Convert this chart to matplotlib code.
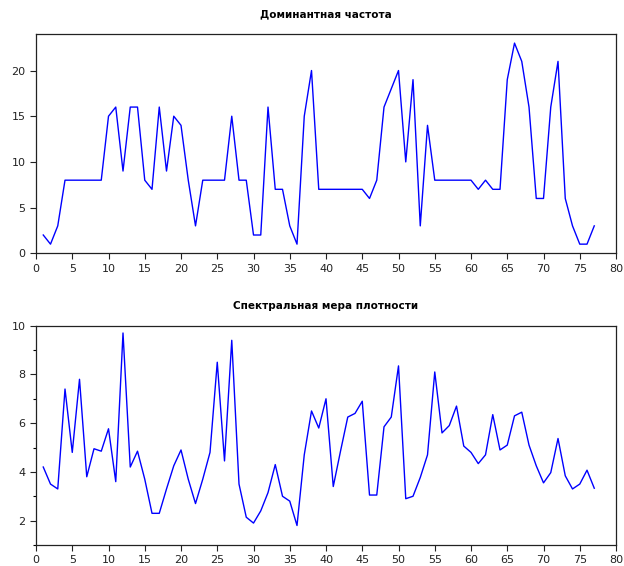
import matplotlib
matplotlib.use("Agg")
import matplotlib.pyplot as plt
from matplotlib.ticker import MultipleLocator

# data
x = list(range(1, 78))

dominant_freq = [2, 1, 3, 8, 8, 8, 8, 8, 8, 15,
                 16, 9, 16, 16, 8, 7, 16, 9, 15, 14,
                 8, 3, 8, 8, 8, 8, 15, 8, 8, 2,
                 2, 16, 7, 7, 3, 1, 15, 20, 7, 7,
                 7, 7, 7, 7, 7, 6, 8, 16, 18, 20,
                 10, 19, 3, 14, 8, 8, 8, 8, 8, 8,
                 7, 8, 7, 7, 19, 23, 21, 16, 6, 6,
                 16, 21, 6, 3, 1, 1, 3]

spectral_density = [4.2, 3.5, 3.3, 7.4, 4.8, 7.8, 3.8, 4.95, 4.85, 5.77,
                    3.6, 9.7, 4.2, 4.85, 3.7, 2.3, 2.3, 3.3, 4.25, 4.9,
                    3.7, 2.7, 3.7, 4.8, 8.5, 4.45, 9.4, 3.5, 2.14, 1.9,
                    2.4, 3.15, 4.3, 3.0, 2.8, 1.8, 4.7, 6.5, 5.8, 7.0,
                    3.4, 4.85, 6.25, 6.4, 6.9, 3.05, 3.05, 5.85, 6.25, 8.35,
                    2.9, 3.0, 3.77, 4.7, 8.1, 5.6, 5.9, 6.7, 5.06, 4.8,
                    4.34, 4.7, 6.35, 4.9, 5.1, 6.3, 6.45, 5.1, 4.25, 3.55,
                    3.97, 5.37, 3.84, 3.3, 3.5, 4.07, 3.33]

titles = ["Доминантная частота", "Спектральная мера плотности"]

fig = plt.figure(figsize=(6.24, 5.66), dpi=100)
ax1 = fig.add_axes([0.0577, 0.5525, 0.9295, 0.3875])
ax2 = fig.add_axes([0.0577, 0.0371, 0.9295, 0.3875])

ax1.plot(x, dominant_freq, color="blue", lw=1.0)
ax1.set_ylim(0, 24)
ax1.yaxis.set_major_locator(MultipleLocator(5))

ax2.plot(x, spectral_density, color="blue", lw=1.0)
ax2.set_ylim(1, 10)
ax2.yaxis.set_major_locator(MultipleLocator(2))
ax2.yaxis.set_minor_locator(MultipleLocator(1))

for ax, title in zip([ax1, ax2], titles):
    ax.set_xlim(0, 80)
    ax.xaxis.set_major_locator(MultipleLocator(5))
    ax.tick_params(direction="out", length=4, width=0.8, labelsize=8,
                   colors="#222222", top=False, right=False)
    ax.tick_params(which="minor", direction="out", length=2.5, width=0.8)
    for s in ax.spines.values():
        s.set_linewidth(0.9)
        s.set_color("#222222")
    ax.set_title(title, fontsize=7.5, fontweight="bold", pad=12)

fig.savefig("out.png", dpi=100)
